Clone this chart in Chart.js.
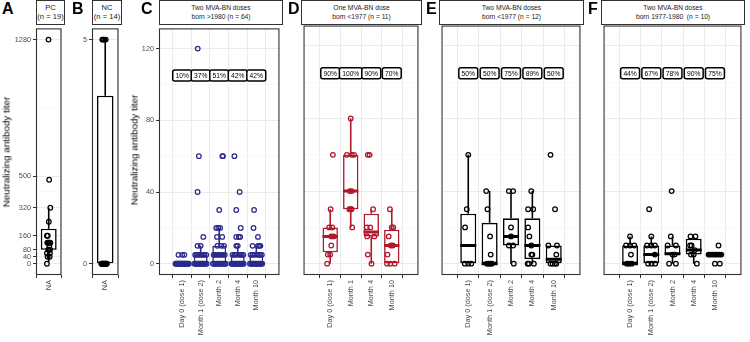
<!DOCTYPE html>
<html>
<head>
<meta charset="utf-8">
<script src="https://cdn.jsdelivr.net/npm/chart.js@4.4.1/dist/chart.umd.min.js"></script>
<style>
  body { margin: 0; background: #fff; width: 750px; height: 342px; overflow: hidden; position: relative; font-family: "Liberation Sans", Arial, sans-serif; }
  canvas { position: absolute; }
  .strip { position: absolute; top: 0; height: 25px; border: 1px solid #333; box-sizing: border-box; background: #fff; color: #1a1a1a;
           line-height: 8.5px; text-align: center; display: flex; flex-direction: column; justify-content: center; white-space: pre; }
  .tag { position: absolute; top: 1.3px; font-weight: bold; font-size: 16px; line-height: 16px; color: #000; }
  .ytitle { position: absolute; font-size: 9.8px; white-space: nowrap; color: #000; transform: translate(-50%, -50%) rotate(-90deg); }
</style>
</head>
<body>
<script>
// ---- data ----
const catsNA = ['NA'];
const catsTwo = ['Day 0 (dose 1)', 'Month 1 (dose 2)', 'Month 2', 'Month 4', 'Month 10'];
const catsOne = ['Day 0 (dose 1)', 'Month 1', 'Month 4', 'Month 10'];

const ticksA = [0, 40, 80, 160, 320, 500, 1280];
const minorA = [20, 60, 120, 240, 410, 890];
const ticksB = [0, 5];
const minorB = [2.5];
const ticksCF = [0, 40, 80, 120];
const minorCF = [20, 60, 100];

// box stats per category: [whisker low, q1, median, q3, whisker high]
const boxA = [[10, 80, 120, 200, 320]];
const boxB = [[0, 0, 0, 3.75, 5]];
const boxC = [[0, 0, 0, 0, 0], [0, 0, 0, 5, 10], [0, 0, 5, 10, 20], [0, 0, 0, 5, 10], [0, 0, 0, 5, 10]];
const boxD = [[0, 6.25, 15, 20, 30], [20, 30, 40, 60, 80], [0, 15, 17.5, 27.5, 30], [0, 0, 10, 18.75, 30]];
const boxE = [[0, 0, 10, 27.5, 60], [0, 0, 0, 22.5, 40], [0, 10, 15, 25, 40], [0, 2.5, 10, 25, 40], [0, 0, 2.5, 10, 10]];
const boxF = [[0, 0, 0, 10, 15], [0, 0, 5, 10, 15], [0, 5, 5.5, 10, 15], [0, 5, 7.5, 13.75, 15], [5, 5, 5, 5, 5]];

// individual titers per category: [jitter, titer]
const ptsA = [[[-0.02, 1280], [0.04, 480], [0.15, 320], [0.01, 240], [-0.17, 160], [-0.09, 160], [-0.12, 120], [0.05, 120],
  [0.15, 120], [-0.05, 120], [0.06, 100], [0.02, 80], [-0.04, 80], [0.12, 80], [-0.17, 60], [0.11, 60], [0.09, 40], [-0.1, 40], [-0.17, 0]]];
const ptsB = [[[-0.27, 5], [-0.18, 5], [-0.08, 5], [0.05, 5], [-0.36, 0], [-0.3, 0], [-0.24, 0], [-0.18, 0], [-0.12, 0],
  [-0.06, 0], [0, 0], [0.05, 0], [0.1, 0], [0.14, 0]]];
const ptsC = [
  [[-0.2, 5], [0, 5], [0.12, 5],
   [-0.36, 0], [-0.32, 0], [-0.28, 0], [-0.24, 0], [-0.2, 0], [-0.16, 0], [-0.12, 0], [-0.08, 0], [-0.04, 0], [0, 0],
   [0.04, 0], [0.08, 0], [0.12, 0], [0.16, 0], [0.2, 0], [0.24, 0], [0.28, 0], [0.32, 0], [0.36, 0]],
  [[-0.16, 120], [-0.1, 60], [-0.17, 40], [0.14, 15], [-0.17, 10], [0, 10], [-0.3, 5], [-0.22, 5], [-0.14, 5], [-0.05, 5],
   [0.04, 5], [0.12, 5], [0.2, 5], [0.3, 5],
   [-0.34, 0], [-0.28, 0], [-0.22, 0], [-0.16, 0], [-0.1, 0], [-0.04, 0], [0.02, 0], [0.08, 0], [0.14, 0], [0.2, 0], [0.26, 0], [0.32, 0]],
  [[0.17, 60], [0.2, 60], [0, 30], [-0.16, 20], [-0.05, 20], [0.05, 20], [-0.12, 15], [0.16, 15], [-0.1, 10], [0.12, 10], [0.26, 10],
   [-0.3, 5], [-0.2, 5], [-0.1, 5], [0, 5], [0.1, 5], [0.2, 5], [0.3, 5],
   [-0.34, 0], [-0.27, 0], [-0.2, 0], [-0.13, 0], [-0.06, 0], [0.01, 0], [0.08, 0], [0.15, 0], [0.22, 0], [0.29, 0], [0.35, 0]],
  [[-0.18, 60], [0.1, 40], [-0.08, 30], [0.16, 20], [-0.08, 15], [0.06, 15], [0.13, 15], [-0.08, 10], [0, 10],
   [-0.28, 5], [-0.18, 5], [-0.1, 5], [0.05, 5], [0.14, 5], [0.22, 5], [0.3, 5],
   [-0.34, 0], [-0.28, 0], [-0.22, 0], [-0.16, 0], [-0.1, 0], [-0.04, 0], [0.02, 0], [0.08, 0], [0.14, 0], [0.2, 0], [0.26, 0], [0.32, 0]],
  [[-0.12, 30], [-0.15, 20], [0.09, 15], [-0.2, 10], [0.09, 10], [0.16, 10], [0.22, 10], [-0.3, 5], [-0.2, 5], [-0.1, 5],
   [0.05, 5], [0.14, 5], [0.22, 5], [0.3, 5],
   [-0.34, 0], [-0.28, 0], [-0.22, 0], [-0.16, 0], [-0.1, 0], [-0.04, 0], [0.02, 0], [0.08, 0], [0.14, 0], [0.2, 0], [0.26, 0], [0.32, 0]]
];
const ptsD = [
  [[0.13, 60], [0.02, 30], [-0.05, 20], [0.1, 20], [0.17, 15], [0.05, 15], [0.05, 10], [-0.12, 5], [0, 5], [-0.15, 0]],
  [[0, 80], [-0.19, 60], [0.16, 60], [0.05, 60], [-0.05, 40], [0.05, 40], [-0.07, 30], [0, 30], [0.04, 30], [0.07, 20]],
  [[-0.17, 60], [-0.08, 60], [0.09, 30], [-0.22, 20], [-0.05, 20], [-0.2, 15], [0.15, 15], [-0.17, 5], [0.01, 0]],
  [[-0.09, 30], [0, 20], [0.07, 20], [-0.15, 15], [-0.05, 10], [0.05, 10], [-0.21, 5], [-0.23, 0], [-0.07, 0], [0.14, 0]]
];
const ptsE = [
  [[0, 60], [-0.07, 30], [-0.15, 20], [-0.16, 0], [0, 0], [0.14, 0]],
  [[-0.16, 40], [-0.1, 30], [0.02, 15], [0.05, 5], [-0.12, 0], [-0.04, 0], [0.04, 0], [0.1, 0]],
  [[-0.1, 40], [0.1, 40], [0, 20], [0, 15], [-0.1, 10], [0.1, 10], [0.13, 0]],
  [[-0.05, 40], [-0.2, 30], [0.04, 30], [-0.2, 20], [-0.14, 15], [-0.05, 10], [-0.05, 5], [0, 5], [-0.22, 0], [-0.16, 0], [0.07, 0]],
  [[-0.15, 60], [0.06, 30], [-0.25, 10], [0.15, 10], [0.12, 5], [-0.15, 0], [-0.05, 0], [0.05, 0], [0.12, 0]]
];
const ptsF = [
  [[0, 15], [-0.19, 10], [0, 10], [0.2, 10], [0.04, 5], [-0.15, 0], [-0.05, 0], [0.08, 0]],
  [[-0.1, 30], [0, 15], [-0.2, 10], [0, 10], [0.17, 10], [0.17, 5], [-0.15, 0], [0.01, 0], [0.18, 0]],
  [[-0.04, 40], [-0.08, 15], [-0.23, 10], [0.16, 10], [0, 5], [0.1, 5], [-0.16, 0], [0.16, 0]],
  [[-0.15, 15], [0.08, 15], [-0.17, 10], [-0.1, 10], [-0.13, 5], [0, 5], [0.05, 7.5], [0.15, 0]],
  [[0.17, 10], [-0.3, 5], [-0.2, 5], [-0.1, 5], [0, 5], [0.1, 5], [0.2, 5], [0.3, 5], [0, 0], [0.23, 0]]
];

const pctC = ['10%', '37%', '51%', '42%', '42%'];
const pctD = ['90%', '100%', '90%', '70%'];
const pctE = ['50%', '50%', '75%', '89%', '50%'];
const pctF = ['44%', '67%', '78%', '90%', '75%'];
const pctY = 105;

// ---- drawing ----
Chart.defaults.font.family = '"Liberation Sans", Arial, sans-serif';
const NAVY = '#2B2A8B', RED = '#B2182B', BLACK = '#000000';

const frame = {
  id: 'frame',
  afterDraw(chart) {
    const { ctx, chartArea: a } = chart;
    ctx.save();
    ctx.strokeStyle = '#333';
    ctx.lineWidth = 1.1;
    ctx.strokeRect(a.left + 0.5, a.top + 0.5, a.right - a.left - 1, a.bottom - a.top - 1);
    ctx.restore();
  }
};

function pctLabels(p) {
  return {
    id: 'pct',
    afterDatasetsDraw(chart) {
      if (!p.pct) return;
      const { ctx, scales: { x, y } } = chart;
      ctx.save();
      ctx.font = '6.7px "Liberation Sans", Arial, sans-serif';
      ctx.textAlign = 'center';
      ctx.textBaseline = 'middle';
      p.pct.forEach((t, i) => {
        const cx = x.getPixelForValue(i), cy = y.getPixelForValue(pctY);
        const w = ctx.measureText(t).width + 5.5, h = 11;
        ctx.beginPath();
        ctx.roundRect(cx - w / 2, cy - h / 2, w, h, 2);
        ctx.fillStyle = '#fff';
        ctx.fill();
        ctx.lineWidth = 1.5;
        ctx.strokeStyle = '#000';
        ctx.stroke();
        ctx.fillStyle = '#000';
        ctx.fillText(t, cx, cy + 0.5);
      });
      ctx.restore();
    }
  };
}

function addStrip(p) {
  const s = document.createElement('div');
  s.className = 'strip';
  s.style.left = p.plotL + 'px';
  s.style.width = (p.plotR - p.plotL + 1) + 'px';
  s.style.fontSize = p.stripSize + 'px';
  p.strip.forEach(line => {
    const d = document.createElement('div');
    d.textContent = line;
    s.appendChild(d);
  });
  document.body.appendChild(s);
}

function drawPanel(p) {
  const n = p.cats.length;
  const cv = document.createElement('canvas');
  cv.width = p.yW + (p.plotR - p.plotL) + 2;
  cv.height = 320;
  cv.style.left = (p.plotL - p.yW - 1) + 'px';
  cv.style.top = '22px';
  document.body.appendChild(cv);

  const half = 0.375;
  const points = p.pts.flatMap((arr, i) => arr.map(([dx, v]) => ({ x: i + dx, y: v })));
  const medians = p.box.flatMap((b, i) => [{ x: i - half, y: b[2] }, { x: i + half, y: b[2] }, { x: i, y: null }]);
  const whiskers = p.box.flatMap((b, i) => [
    { x: i, y: b[3] }, { x: i, y: b[4] }, { x: i, y: null },
    { x: i, y: b[1] }, { x: i, y: b[0] }, { x: i, y: null }
  ]);
  const boxes = p.box.map((b, i) => ({ x: i, y: [b[1], b[3]] }));
  const yTicks = [...p.yMajor, ...p.yMinor].sort((a, b) => a - b);
  const isMajor = v => p.yMajor.includes(v);

  new Chart(cv, {
    type: 'scatter',
    data: {
      datasets: [
        { type: 'scatter', data: points, order: 0, pointRadius: 2.3, pointHoverRadius: 2.3, pointBorderWidth: 1.25,
          borderColor: p.color, backgroundColor: 'rgba(0,0,0,0)' },
        { type: 'line', data: medians, order: 1, borderColor: p.color, borderWidth: 3, pointRadius: 0, fill: false },
        { type: 'bar', data: boxes, order: 2, backgroundColor: '#fff', borderColor: p.color, borderWidth: 1.6,
          borderSkipped: false, categoryPercentage: 1, barPercentage: n === 1 ? 0.625 : 0.75, grouped: false },
        { type: 'line', data: whiskers, order: 3, borderColor: p.color, borderWidth: 1.6, pointRadius: 0, fill: false }
      ]
    },
    options: {
      responsive: false,
      animation: false,
      layout: { padding: { left: 1, right: 1, top: 2, bottom: 0 } },
      plugins: { legend: { display: false }, tooltip: { enabled: false } },
      scales: {
        x: {
          type: 'linear', min: -0.6, max: n - 0.4,
          afterBuildTicks: s => { s.ticks = p.cats.map((_, i) => ({ value: i })); },
          afterFit: s => { s.height = 67; },
          ticks: { callback: v => p.cats[v], minRotation: 90, maxRotation: 90, autoSkip: false,
                   font: { size: 7.3 }, color: '#4D4D4D', padding: 2 },
          grid: { color: '#EBEBEB', lineWidth: 1, tickLength: 3, tickColor: '#333' },
          border: { display: false }
        },
        y: {
          type: 'linear', min: p.yMin, max: p.yMax,
          afterBuildTicks: s => { s.ticks = yTicks.map(v => ({ value: v })); },
          afterFit: s => { s.width = p.yW; },
          ticks: { display: p.yW > 0, autoSkip: false, callback: v => isMajor(v) ? String(v) : '',
                   font: { size: 7.3 }, color: '#4D4D4D', padding: 2 },
          grid: {
            color: c => isMajor(c.tick.value) ? '#EBEBEB' : '#F4F4F4',
            lineWidth: c => isMajor(c.tick.value) ? 1 : 0.6,
            drawTicks: p.yW > 0, tickLength: 3,
            tickColor: c => isMajor(c.tick.value) ? '#333' : 'rgba(0,0,0,0)'
          },
          border: { display: false }
        }
      }
    },
    plugins: [frame, pctLabels(p)]
  });
  addStrip(p);
}

const panels = [
  { cats: catsNA, box: boxA, pts: ptsA, color: BLACK, yMin: -64, yMax: 1344, yMajor: ticksA, yMinor: minorA,
    plotL: 36, plotR: 64, yW: 24, strip: ['PC', '(n = 19)'], stripSize: 7.6 },
  { cats: catsNA, box: boxB, pts: ptsB, color: BLACK, yMin: -0.25, yMax: 5.25, yMajor: ticksB, yMinor: minorB,
    plotL: 92, plotR: 121, yW: 14, strip: ['NC', '(n = 14)'], stripSize: 7.6 },
  { cats: catsTwo, box: boxC, pts: ptsC, pct: pctC, color: NAVY, yMin: -6.25, yMax: 131.25, yMajor: ticksCF, yMinor: minorCF,
    plotL: 159, plotR: 282, yW: 20, strip: ['Two MVA-BN doses', 'born >1980 (n = 64)'], stripSize: 6.7 },
  { cats: catsOne, box: boxD, pts: ptsD, pct: pctD, color: RED, yMin: -6.25, yMax: 131.25, yMajor: ticksCF, yMinor: minorCF,
    plotL: 301, plotR: 421, yW: 0, strip: ['One MVA-BN dose', 'born <1977 (n = 11)'], stripSize: 6.7 },
  { cats: catsTwo, box: boxE, pts: ptsE, pct: pctE, color: BLACK, yMin: -6.25, yMax: 131.25, yMajor: ticksCF, yMinor: minorCF,
    plotL: 439, plotR: 583, yW: 0, strip: ['Two MVA-BN doses', 'born <1977 (n = 12)'], stripSize: 6.7 },
  { cats: catsTwo, box: boxF, pts: ptsF, pct: pctF, color: BLACK, yMin: -6.25, yMax: 131.25, yMajor: ticksCF, yMinor: minorCF,
    plotL: 601, plotR: 744, yW: 0, strip: ['Two MVA-BN doses', 'born 1977-1980  (n = 10)'], stripSize: 6.7 }
];
panels.forEach(drawPanel);

// panel letters and axis titles
[['A', 2], ['B', 72], ['C', 141], ['D', 288], ['E', 426], ['F', 588]].forEach(([t, x]) => {
  const d = document.createElement('div');
  d.className = 'tag';
  d.style.left = x + 'px';
  d.textContent = t;
  document.body.appendChild(d);
});
[[5.5, 152], [133.7, 150]].forEach(([x, y]) => {
  const d = document.createElement('div');
  d.className = 'ytitle';
  d.style.left = x + 'px';
  d.style.top = y + 'px';
  d.textContent = 'Neutralizing antibody titer';
  document.body.appendChild(d);
});
</script>
</body>
</html>
